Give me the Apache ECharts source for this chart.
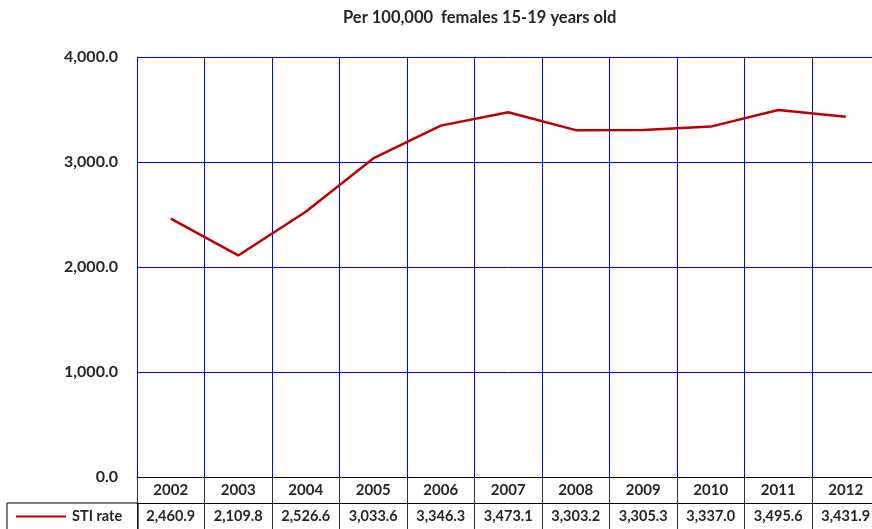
<!DOCTYPE html>
<html>
<head>
<meta charset="utf-8">
<script src="https://cdn.jsdelivr.net/npm/echarts@6/dist/echarts.min.js"></script>
<style>
html,body{margin:0;padding:0;background:#fff;overflow:hidden;}
#c{width:880px;height:529px;}
</style>
</head>
<body>
<div id="c"></div>
<script>
const years = ['2002','2003','2004','2005','2006','2007','2008','2009','2010','2011','2012'];
const stiRate = [2460.9, 2109.8, 2526.6, 3033.6, 3346.3, 3473.1, 3303.2, 3305.3, 3337.0, 3495.6, 3431.9];
const yTicks = [0, 1000, 2000, 3000, 4000];
const seriesName = 'STI rate';
const titleText = 'Per 100,000  females 15-19 years old';

function fmt(v){
  return v.toLocaleString('en-US',{minimumFractionDigits:1,maximumFractionDigits:1});
}
const FONT = 'Lato, "Open Sans", sans-serif';
const chart = echarts.init(document.getElementById('c'), null, {renderer:'canvas'});
chart.setOption({
  animation:false,
  title:{
    text:titleText, left:343, top:9, padding:0,
    textStyle:{fontFamily:FONT, fontSize:16.5, fontWeight:'bold', color:'#262626'}
  },
  legend:{
    data:[{name:seriesName}],
    left:7, top:503, orient:'horizontal',
    borderColor:'#000', borderWidth:1, borderRadius:0,
    padding:[6,16,10,9],
    icon:'rect', itemWidth:50, itemHeight:2, itemGap:5,
    textStyle:{fontFamily:FONT, fontSize:14.5, fontWeight:'bold', color:'#262626', padding:[0,0,0,1]}
  },
  grid:{left:137, top:57, width:742.5, height:420, containLabel:false},
  xAxis:[{
    type:'category', data:years, boundaryGap:true, position:'bottom',
    axisLine:{show:true, lineStyle:{color:'#000', width:1}},
    axisTick:{show:true, length:52, interval:0, lineStyle:{color:'#333', width:1}},
    splitLine:{show:true, interval:0, lineStyle:{color:'#0000FF', width:1}},
    axisLabel:{interval:0, margin:6, fontFamily:FONT, fontSize:15, fontWeight:'bold', color:'#262626'}
  },{
    type:'category', data:stiRate.map(fmt), boundaryGap:true, position:'bottom', offset:26,
    axisLine:{show:true, lineStyle:{color:'#000', width:1}},
    axisTick:{show:false},
    splitLine:{show:false},
    axisLabel:{interval:0, margin:6, fontFamily:FONT, fontSize:14.5, fontWeight:'bold', color:'#262626'}
  }],
  yAxis:{
    type:'value', min:yTicks[0], max:yTicks[yTicks.length-1], interval:1000,
    axisLine:{show:true, lineStyle:{color:'#0000FF', width:1}},
    axisTick:{show:false},
    splitLine:{show:true, lineStyle:{color:'#0000FF', width:1}},
    axisLabel:{margin:19, formatter:v=>fmt(v), fontFamily:FONT, fontSize:16, fontWeight:'bold', color:'#262626'}
  },
  series:[{
    name:seriesName, type:'line', xAxisIndex:0, data:stiRate,
    showSymbol:false, symbol:'none',
    lineStyle:{color:'#C00000', width:2.5},
    itemStyle:{color:'#C00000'}
  }]
});
</script>
</body>
</html>
